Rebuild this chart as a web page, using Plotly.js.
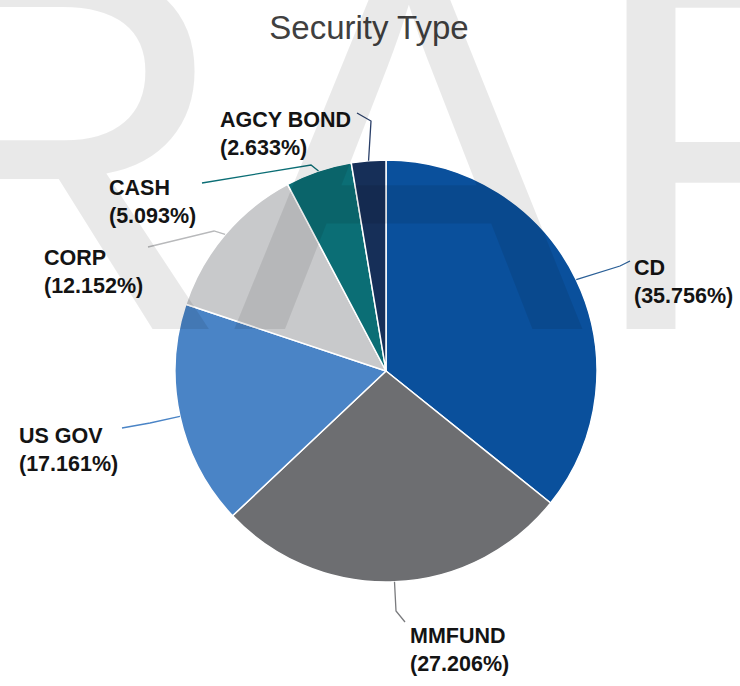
<!DOCTYPE html>
<html>
<head>
<meta charset="utf-8">
<script src="https://cdn.plot.ly/plotly-3.0.1.min.js"></script>
<style>html,body{margin:0;padding:0;background:#fff;}#chart{width:740px;height:686px;}</style>
</head>
<body>
<div id="chart"></div>
<script>
// ---- data ----
const categories = ["CD", "MMFUND", "US GOV", "CORP", "CASH", "AGCY BOND"];
const shares = [35.756, 27.206, 17.161, 12.152, 5.093, 2.633];
const sliceColors = ["#0a509c", "#6d6e71", "#4a84c6", "#c8c9cb", "#0b6e75", "#162f58"];
const lineColors = ["#2a5f97", "#7a7b7e", "#4a84c6", "#b8b9bb", "#0b6e75", "#2a3f68"];
const chartTitle = "Security Type";
const watermark = "DRAFT";

// ---- layout geometry (pixels) ----
const W = 740, H = 686;
const CX = 386, CY = 371, R = 211;
// label placement: left x, vertical middle y
const labelPos = [[632, 282], [408, 650], [17, 450], [42, 272], [107, 202], [218, 134]];
// leader elbows and ends
const leaderElbow = [[620, 266], [396, 611], [150, 423], [214, 231], [311, 165], [371, 121]];
const leaderEnd = [[630, 261], [405, 622], [122, 428], [148, 247], [202, 183], [357, 113]];

const px = x => x / W;
const py = y => 1 - y / H;

const total = shares.reduce((a, b) => a + b, 0);
let cum = 0;
const anchors = shares.map(v => {
  const th = 2 * Math.PI * (cum + v / 2) / total;
  cum += v;
  return [CX + R * Math.sin(th), CY - R * Math.cos(th)];
});

const shapes = categories.map((c, i) => ({
  type: "path",
  xref: "paper", yref: "paper",
  path: `M ${px(anchors[i][0])} ${py(anchors[i][1])} L ${px(leaderElbow[i][0])} ${py(leaderElbow[i][1])} L ${px(leaderEnd[i][0])} ${py(leaderEnd[i][1])}`,
  line: { color: lineColors[i], width: 1.3 }
}));

const annotations = categories.map((c, i) => ({
  xref: "paper", yref: "paper",
  x: px(labelPos[i][0]), y: py(labelPos[i][1]),
  xanchor: "left", yanchor: "middle", align: "left",
  showarrow: false,
  text: `<b>${c}</b><br><b>(${shares[i].toFixed(3)}%)</b>`,
  font: { family: "Liberation Sans, Arial, sans-serif", size: 21.5, color: "#141414" }
}));

annotations.push({
  xref: "paper", yref: "paper",
  x: px(350), y: py(147),
  xanchor: "center", yanchor: "middle",
  showarrow: false,
  text: watermark,
  font: { family: "Liberation Sans, Arial, sans-serif", size: 525, color: "rgba(0,0,0,0.085)" }
});

const trace = {
  type: "pie",
  labels: categories,
  values: shares,
  sort: false,
  direction: "clockwise",
  rotation: 0,
  textinfo: "none",
  hoverinfo: "none",
  marker: { colors: sliceColors, line: { color: "#ffffff", width: 1.5 } },
  domain: { x: [px(CX - R), px(CX + R)], y: [py(CY + R), py(CY - R)] },
  showlegend: false
};

const layout = {
  width: W, height: H,
  margin: { l: 0, r: 0, t: 0, b: 0 },
  paper_bgcolor: "#ffffff",
  plot_bgcolor: "#ffffff",
  title: {
    text: chartTitle,
    x: px(369), xref: "paper", xanchor: "center",
    y: py(27), yref: "paper", yanchor: "middle",
    font: { family: "Liberation Sans, Arial, sans-serif", size: 33, color: "#404040" }
  },
  shapes: shapes,
  annotations: annotations,
  showlegend: false
};

Plotly.newPlot("chart", [trace], layout, { displayModeBar: false, staticPlot: true });
</script>
</body>
</html>
